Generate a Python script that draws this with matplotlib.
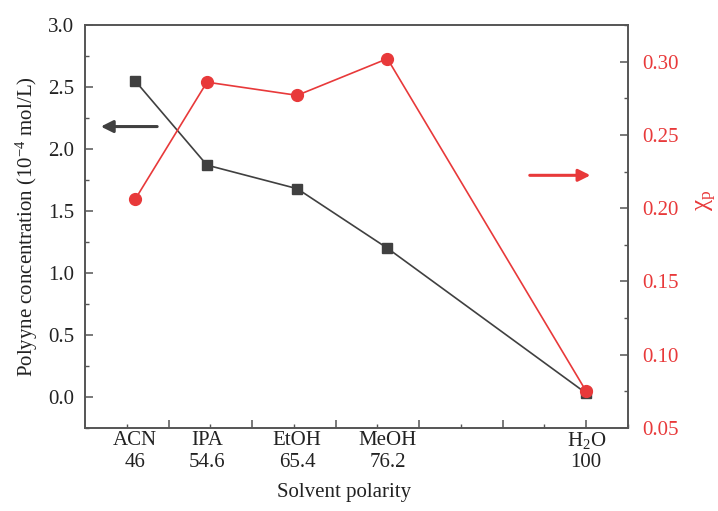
import matplotlib
matplotlib.use("Agg")
import matplotlib.pyplot as plt
from matplotlib.ticker import MultipleLocator, FormatStrFormatter

plt.rcParams["font.family"] = ["Liberation Serif", "DejaVu Serif"]
plt.rcParams["mathtext.fontset"] = "custom"
plt.rcParams["mathtext.rm"] = "Liberation Serif"
plt.rcParams["mathtext.it"] = "Liberation Serif:italic"

solvents = ["ACN", "IPA", "EtOH", "MeOH", "H$_2$O"]
polarity = [46, 54.6, 65.4, 76.2, 100]
polarity_labels = ["46", "54.6", "65.4", "76.2", "100"]
concentration = [2.55, 1.87, 1.68, 1.20, 0.03]
chi_p = [0.206, 0.286, 0.277, 0.302, 0.075]

dark = "#404040"
red = "#e8393a"
spine_c = "#555555"
text_c = "#222222"
fs = 15

fig = plt.figure(figsize=(7.18, 5.11), dpi=100)
ax = fig.add_axes([85 / 718, 1 - 428 / 511, 543 / 718, 403 / 511])
ax2 = ax.twinx()

ax.plot(polarity, concentration, color=dark, lw=1.2, marker="s", ms=7,
        zorder=3)
ax2.plot(polarity, chi_p, color=red, lw=1.2, marker="o", ms=8.5, zorder=3)

ax.set_xlim(40, 105)
ax.set_ylim(-0.25, 3.0)
ax2.set_ylim(0.05, 0.325)

ax.xaxis.set_major_locator(MultipleLocator(10))
ax.xaxis.set_minor_locator(MultipleLocator(5))
ax.set_xticklabels([])
ax.yaxis.set_major_locator(MultipleLocator(0.5))
ax.yaxis.set_minor_locator(MultipleLocator(0.25))
ax2.yaxis.set_major_locator(MultipleLocator(0.05))
ax2.yaxis.set_minor_locator(MultipleLocator(0.025))
ax.yaxis.set_major_formatter(FormatStrFormatter("%.1f"))
ax2.yaxis.set_major_formatter(FormatStrFormatter("%.2f"))

for a in (ax, ax2):
    for s in a.spines.values():
        s.set_color(spine_c)
        s.set_linewidth(1.2)
ax.tick_params(axis="both", which="both", direction="in", color=spine_c,
               labelsize=fs, labelcolor=text_c)
ax.tick_params(which="major", length=6, width=1.1)
ax.tick_params(which="minor", length=3, width=1.0)
ax.tick_params(axis="x", which="both", top=False)
ax.tick_params(axis="y", pad=8)
ax2.tick_params(axis="y", which="both", direction="in", color=spine_c,
                labelsize=fs, labelcolor=red, pad=10)
ax2.tick_params(which="major", length=6, width=1.1)
ax2.tick_params(which="minor", length=3, width=1.0)

# solvent names with their polarity under the axis
xt = ax.get_xaxis_transform()
for x, name, val in zip(polarity, solvents, polarity_labels):
    ax.text(x, -0.032, name, transform=xt, ha="center", va="center",
            fontsize=fs, color=text_c)
    ax.text(x, -0.085, val, transform=xt, ha="center", va="center",
            fontsize=fs, color=text_c)

ax.set_xlabel("Solvent polarity", fontsize=fs, color=text_c)
ax.xaxis.label.set_va("center")
ax.xaxis.set_label_coords(0.477, -0.161)

ax.set_ylabel("Polyyne concentration (10$^{-4}$ mol/L)", fontsize=fs,
              color=text_c)
ax.yaxis.label.set_va("center")
ax.yaxis.set_label_coords(-0.107, 0.5)

ax2.set_ylabel(r"$\mathrm{\chi_p}$", fontsize=18, color=red)
ax2.yaxis.label.set_va("center")
ax2.yaxis.label.set_ha("center")
ax2.yaxis.set_label_coords(1.145, 0.566)

# arrows pointing to the matching axis
ax.annotate("", xy=(0.024, 0.748), xytext=(0.138, 0.748),
            xycoords="axes fraction",
            arrowprops=dict(arrowstyle="-|>", color=dark, lw=2.2,
                            mutation_scale=18))
ax.annotate("", xy=(0.936, 0.627), xytext=(0.814, 0.627),
            xycoords="axes fraction",
            arrowprops=dict(arrowstyle="-|>", color=red, lw=2.2,
                            mutation_scale=18))

fig.savefig("out.png", dpi=100)
